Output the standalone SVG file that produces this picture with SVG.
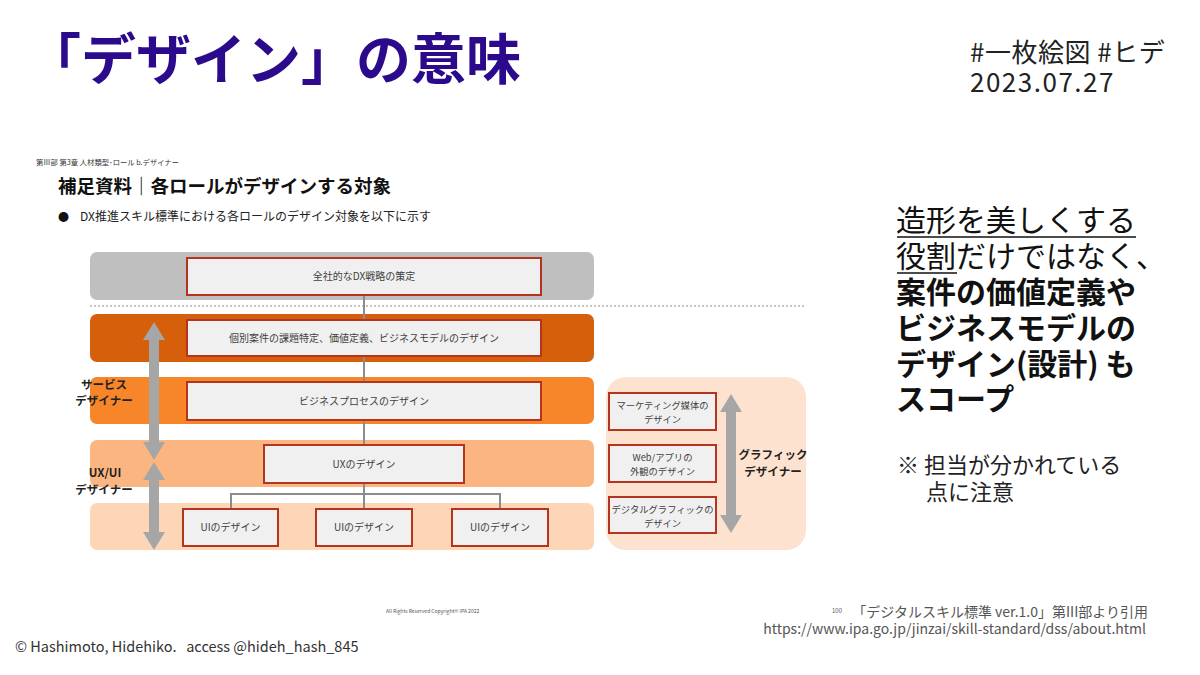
<svg xmlns="http://www.w3.org/2000/svg" width="1200" height="675" viewBox="0 0 1200 675">
<style>
text{font-family:"Noto Sans CJK JP","Noto Sans",sans-serif;}
.bx{fill:#f0f0f0;stroke:#b5341f;stroke-width:2;}
.bt{font-size:10px;fill:#404040;text-anchor:middle;}
.bs{font-size:9.3px;fill:#404040;text-anchor:middle;}
.lbl{font-size:11.5px;font-weight:bold;fill:#222;text-anchor:middle;}
.con{stroke:#8c8c8c;stroke-width:2;fill:none;}
.arr{fill:#a6a6a6;}
.rt{font-size:30px;fill:#111;}
</style>
<rect width="1200" height="675" fill="#ffffff"/>
<g id="title">
<text x="26" y="79" font-size="55" font-weight="bold" fill="#2b0a8c">「デザイン」の意味</text>
</g>
<g id="tags">
<text x="970" y="62" font-size="26" fill="#222" letter-spacing="0.5">#一枚絵図 #ヒデ</text>
<text x="970" y="92" font-size="26" fill="#222" letter-spacing="1.5">2023.07.27</text>
</g>
<g id="slide-header">
<text x="36" y="165" font-size="7.3" fill="#333">第Ⅲ部 第3章 人材類型･ロール b.デザイナー</text>
<text x="58" y="193" font-size="18.5" font-weight="bold" fill="#111">補足資料｜各ロールがデザインする対象</text>
<text x="58" y="221" font-size="11" fill="#111">●</text>
<text x="80" y="221" font-size="12" fill="#222">DX推進スキル標準における各ロールのデザイン対象を以下に示す</text>
</g>
<g id="bands">
<rect x="90" y="252" width="504" height="48" rx="7" fill="#bfbfbf"/>
<line x1="90" y1="306" x2="806" y2="306" stroke="#b0b0b0" stroke-width="1.5" stroke-dasharray="2,2"/>
<rect x="90" y="314" width="504" height="48" rx="7" fill="#d65f0c"/>
<rect x="90" y="377" width="504" height="47" rx="7" fill="#f7852a"/>
<rect x="90" y="440" width="504" height="47" rx="7" fill="#fbb581"/>
<rect x="90" y="503" width="504" height="47" rx="7" fill="#fdd6b7"/>
<rect x="606" y="377" width="200" height="173" rx="20" fill="#fde3cf"/>
</g>
<g id="connectors">
<line class="con" x1="364" y1="295" x2="364" y2="320"/>
<line class="con" x1="364" y1="356" x2="364" y2="382"/>
<line class="con" x1="364" y1="420" x2="364" y2="445"/>
<line class="con" x1="364" y1="483" x2="364" y2="509"/>
<polyline class="con" points="231,509 231,494 500,494 500,509"/>
</g>
<g id="arrows">
<polygon class="arr" points="154,322 165,340 159,340 159,442 165,442 154,460 143,442 149,442 149,340 143,340"/>
<polygon class="arr" points="154,462 165,480 159,480 159,532 165,532 154,550 143,532 149,532 149,480 143,480"/>
<polygon class="arr" points="731,394 742,412 736,412 736,515 742,515 731,533 720,515 726,515 726,412 720,412"/>
</g>
<g id="n-strategy">
<rect class="bx" x="187" y="258" width="354" height="37"/>
<text class="bt" x="364" y="280">全社的なDX戦略の策定</text>
</g>
<g id="n-value">
<rect class="bx" x="187" y="320" width="354" height="36"/>
<text class="bt" x="364" y="342">個別案件の課題特定、価値定義、ビジネスモデルのデザイン</text>
</g>
<g id="n-process">
<rect class="bx" x="187" y="382" width="354" height="38"/>
<text class="bt" x="364" y="405">ビジネスプロセスのデザイン</text>
</g>
<g id="n-ux">
<rect class="bx" x="264" y="445" width="200" height="38"/>
<text class="bt" x="364" y="468">UXのデザイン</text>
</g>
<g id="n-ui1">
<rect class="bx" x="183" y="509" width="95" height="37"/>
<text class="bt" x="230.5" y="531">UIのデザイン</text>
</g>
<g id="n-ui2">
<rect class="bx" x="316" y="509" width="96" height="37"/>
<text class="bt" x="364" y="531">UIのデザイン</text>
</g>
<g id="n-ui3">
<rect class="bx" x="452" y="509" width="96" height="37"/>
<text class="bt" x="500" y="531">UIのデザイン</text>
</g>
<g id="n-marketing">
<rect class="bx" x="609" y="393" width="107" height="37"/>
<text class="bs" x="662.5" y="409">マーケティング媒体の</text>
<text class="bs" x="662.5" y="423">デザイン</text>
</g>
<g id="n-web">
<rect class="bx" x="609" y="445" width="107" height="37"/>
<text class="bs" x="662.5" y="461">Web/アプリの</text>
<text class="bs" x="662.5" y="475">外観のデザイン</text>
</g>
<g id="n-digital">
<rect class="bx" x="609" y="497" width="107" height="36"/>
<text class="bs" x="662.5" y="513" font-size="8.6">デジタルグラフィックの</text>
<text class="bs" x="662.5" y="527">デザイン</text>
</g>
<g id="labels">
<text class="lbl" x="104" y="389">サービス</text>
<text class="lbl" x="104" y="405">デザイナー</text>
<text class="lbl" x="105" y="477">UX/UI</text>
<text class="lbl" x="104" y="494">デザイナー</text>
<text class="lbl" x="773" y="459">グラフィック</text>
<text class="lbl" x="773" y="476">デザイナー</text>
</g>
<g id="message">
<text class="rt" x="896" y="231">造形を美しくする</text>
<line x1="897" y1="237" x2="1136" y2="237" stroke="#111" stroke-width="1.5"/>
<text class="rt" x="896" y="267">役割だけではなく、</text>
<line x1="897" y1="273" x2="957" y2="273" stroke="#111" stroke-width="1.5"/>
<text class="rt" x="896" y="303" font-weight="bold">案件の価値定義や</text>
<text class="rt" x="896" y="339" font-weight="bold">ビジネスモデルの</text>
<text class="rt" x="896" y="375" font-weight="bold">デザイン(設計) も</text>
<text class="rt" x="896" y="410" font-weight="bold">スコープ</text>
<text x="897" y="473" font-size="22" fill="#222">※ 担当が分かれている</text>
<text x="926" y="500" font-size="22" fill="#222">点に注意</text>
</g>
<g id="footer">
<text x="386" y="613" font-size="5" fill="#555">All Rights Reserved Copyright© IPA 2022</text>
<text x="832" y="613" font-size="6" fill="#555">100</text>
<text x="1148" y="617" font-size="14" fill="#555" text-anchor="end">「デジタルスキル標準 ver.1.0」第III部より引用</text>
<text x="1146" y="634" font-size="14" fill="#555" text-anchor="end">https://www.ipa.go.jp/jinzai/skill-standard/dss/about.html</text>
<text x="15" y="652" font-size="14.5" fill="#333" xml:space="preserve">© Hashimoto, Hidehiko.   access @hideh_hash_845</text>
</g>
</svg>
